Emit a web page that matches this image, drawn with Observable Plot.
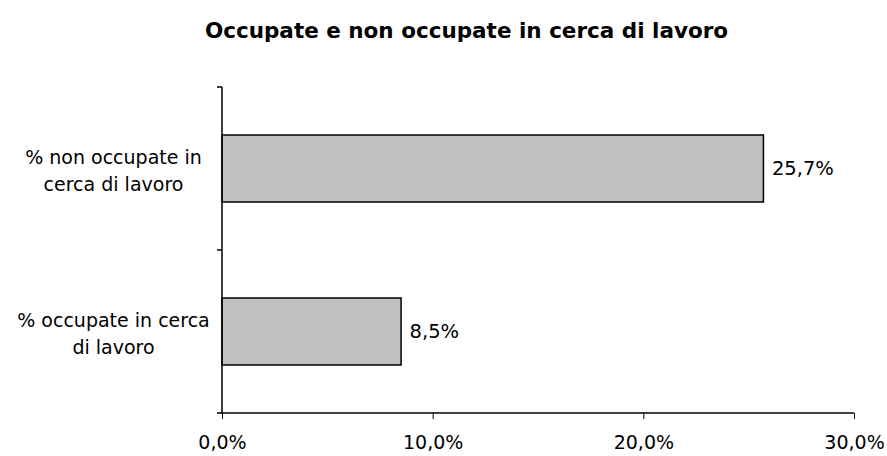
<!DOCTYPE html>
<html><head><meta charset="utf-8">
<script src="https://cdn.jsdelivr.net/npm/d3@7"></script>
<script src="https://cdn.jsdelivr.net/npm/@observablehq/plot@0.6"></script>
<style>
body{margin:0;background:#fff;font-family:"DejaVu Sans",sans-serif;}
#title{height:60px;line-height:62px;font-weight:bold;font-size:21.5px;text-align:center;padding-left:46px;width:841px;color:#000;white-space:nowrap;}
</style></head><body>
<div id="title"></div><div id="chart"></div>
<script>
const title = "Occupate e non occupate in cerca di lavoro";
const categories = ["% non occupate in cerca di lavoro", "% occupate in cerca di lavoro"];
const categoryLines = ["% non occupate in\ncerca di lavoro", "% occupate in cerca\ndi lavoro"];
const values = [0.257, 0.085];
const valueLabels = ["25,7%", "8,5%"];
const xTicks = [0, 0.1, 0.2, 0.3];
const xTickLabels = ["0,0%", "10,0%", "20,0%", "30,0%"];

document.getElementById("title").textContent = title;
const data = categories.map((c, i) => ({cat: c, lines: categoryLines[i], v: values[i], lab: valueLabels[i]}));

const axesMark = (index, scales, values, dim) => {
  const g = d3.create("svg:g").attr("stroke", "#000").attr("stroke-width", 1.5);
  const x0 = dim.marginLeft, x1 = dim.width - dim.marginRight;
  const y0 = dim.marginTop, y1 = dim.height - dim.marginBottom;
  g.append("line").attr("x1", x0).attr("x2", x0).attr("y1", y0).attr("y2", y1 + 1);
  g.append("line").attr("x1", x0 - 1).attr("x2", x1).attr("y1", y1).attr("y2", y1);
  const bounds = [y0];
  categories.forEach((c, i) => { if (i > 0) bounds.push((scales.y(categories[i-1]) + scales.y.bandwidth() + scales.y(c)) / 2); });
  bounds.push(y1);
  bounds.forEach(b => g.append("line").attr("x1", x0 - 5).attr("x2", x0).attr("y1", b).attr("y2", b));
  return g.node();
};

const plot = Plot.plot({
  width: 887, height: 396,
  marginTop: 27, marginBottom: 43, marginLeft: 222, marginRight: 33,
  style: {fontFamily: '"DejaVu Sans", sans-serif', fontSize: "19px", color: "#000", background: "#fff"},
  x: {domain: [0, 0.3], ticks: xTicks, tickFormat: d => xTickLabels[xTicks.findIndex(t => Math.abs(t - d) < 1e-9)], tickSize: 6, tickPadding: 16, label: null},
  y: {domain: categories, paddingInner: 0.59, paddingOuter: 0.29, axis: null, label: null},
  marks: [
    Plot.barX(data, {x: "v", y: "cat", fill: "#c0c0c0", stroke: "#000", strokeWidth: 1.5}),
    Plot.text(data, {x: "v", y: "cat", text: "lab", textAnchor: "start", dx: 8, fontSize: 19.5, fill: "#000"}),
    Plot.text(data, {x: 0, y: "cat", text: "lines", textAnchor: "middle", dx: -109, lineHeight: 1.38, fontSize: 19, fill: "#000"}),
    axesMark
  ]
});
document.getElementById("chart").appendChild(plot);
</script></body></html>
